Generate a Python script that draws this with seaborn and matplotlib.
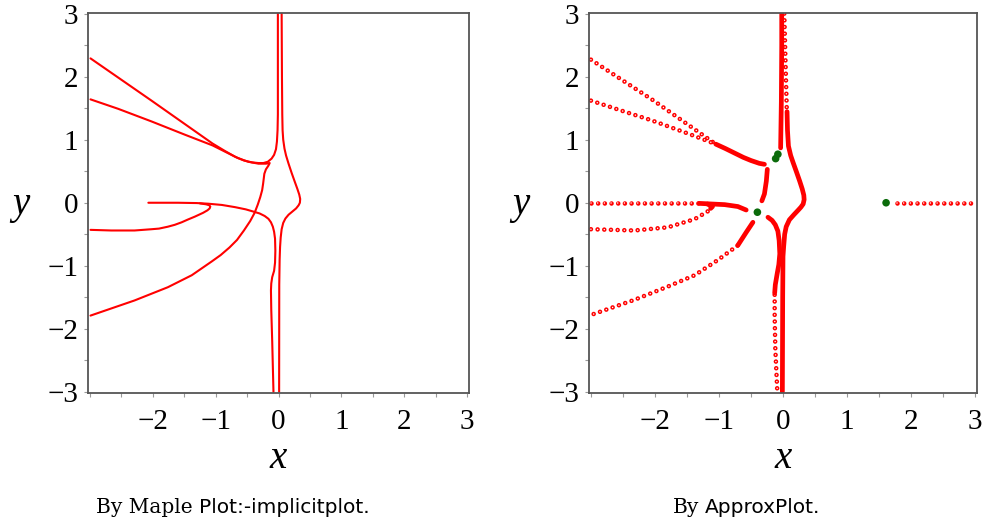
import matplotlib
matplotlib.use("Agg")
import matplotlib.pyplot as plt
import seaborn as sns

# ---- curves (left panel) ----
up1_x = [-2.99, -2.02, -1.05, -0.85, -0.69, -0.55, -0.42, -0.32, -0.24, -0.17, -0.11, -0.07, -0.04,
         -0.025, -0.015, -0.01, -0.01]
up1_y = [2.29, 1.62, 0.94, 0.82, 0.73, 0.67, 0.64, 0.63, 0.63, 0.65, 0.70, 0.76, 0.85,
         0.97, 1.15, 1.4, 3.0]
up2_x = [-2.99, -2.55, -2.02, -1.49, -1.05, -0.85, -0.65, -0.48, -0.32, -0.20, -0.14, -0.16, -0.20,
         -0.225, -0.235, -0.245, -0.26, -0.29, -0.33, -0.38, -0.45, -0.55, -0.66, -0.78, -0.92,
         -1.06, -1.38, -1.76, -2.29, -2.99]
up2_y = [1.64, 1.49, 1.29, 1.08, 0.91, 0.81, 0.71, 0.65, 0.62, 0.62, 0.63, 0.59, 0.53,
         0.46, 0.38, 0.30, 0.20, 0.09, -0.03, -0.16, -0.29, -0.44, -0.59, -0.71, -0.83,
         -0.93, -1.15, -1.34, -1.55, -1.79]
bump_x = [0.05, 0.055, 0.06, 0.065, 0.075, 0.095, 0.12, 0.16, 0.21, 0.26, 0.30, 0.33, 0.345, 0.34,
          0.32, 0.28, 0.22, 0.16, 0.11, 0.075, 0.05, 0.035, 0.025, 0.018, 0.012, 0.01]
bump_y = [3.0, 2.0, 1.4, 1.15, 1.0, 0.86, 0.75, 0.62, 0.47, 0.33, 0.22, 0.13, 0.06, 0.0,
          -0.04, -0.09, -0.14, -0.19, -0.25, -0.32, -0.42, -0.55, -0.7, -0.9, -1.3, -3.0]
hor_x = [-2.07, -1.60, -1.30, -1.12, -0.90, -0.69, -0.52, -0.40, -0.30, -0.22, -0.16, -0.12, -0.09,
         -0.07, -0.055, -0.05, -0.055, -0.07, -0.10, -0.115, -0.12, -0.115, -0.10, -0.09, -0.08]
hor_y = [0.0, 0.0, -0.005, -0.015, -0.035, -0.07, -0.105, -0.14, -0.17, -0.21, -0.255, -0.31, -0.38,
         -0.46, -0.57, -0.76, -0.95, -1.08, -1.18, -1.28, -1.39, -1.7, -2.2, -2.6, -3.0]
pin_x = [-1.25, -1.15, -1.10, -1.085, -1.095, -1.13, -1.20, -1.33, -1.45, -1.54, -1.65, -1.76,
         -1.90, -2.02, -2.29, -2.66, -2.99]
pin_y = [-0.01, -0.025, -0.04, -0.06, -0.09, -0.12, -0.16, -0.22, -0.27, -0.31, -0.35, -0.38,
         -0.41, -0.42, -0.44, -0.44, -0.43]
maple_curves = [(up1_x, up1_y), (up2_x, up2_y), (bump_x, bump_y), (hor_x, hor_y), (pin_x, pin_y)]

# ---- ApproxPlot (right panel): dotted pieces, solid pieces, critical points ----
dot_pieces = [
    ([-3.0, -2.02, -1.05], [2.27, 1.62, 0.93]),
    ([-3.0, -2.55, -2.06, -1.49, -1.05], [1.62, 1.47, 1.31, 1.10, 0.93]),
    ([-0.71, -1.02, -1.38, -1.80, -2.32, -3.0], [-0.68, -0.91, -1.15, -1.33, -1.54, -1.78]),
    ([-3.0, -1.25], [0.0, 0.0]),
    ([-3.0, -2.32, -1.80, -1.38, -1.18, -1.10], [-0.42, -0.44, -0.39, -0.26, -0.14, -0.07]),
    ([0.02, 0.04, 0.06], [3.0, 2.2, 1.44]),
    ([-0.13, -0.13, -0.12, -0.09], [-1.46, -1.80, -2.32, -2.97]),
    ([1.78, 3.0], [0.0, 0.0]),
]
solid_pieces = [
    ([-1.05, -0.90, -0.76, -0.62, -0.50, -0.37, -0.29], [0.93, 0.86, 0.79, 0.72, 0.67, 0.625, 0.61]),
    ([-0.037, -0.026, -0.02, -0.02], [0.87, 1.6, 2.5, 3.0]),
    ([0.063, 0.07, 0.085, 0.12, 0.157, 0.21, 0.26, 0.30, 0.325, 0.33, 0.315, 0.28, 0.235, 0.17,
      0.10, 0.05, 0.026, 0.01, 0.0, -0.005, -0.01],
     [1.445, 1.15, 0.9, 0.75, 0.64, 0.49, 0.345, 0.22, 0.12, 0.05, -0.02, -0.07, -0.12, -0.19,
      -0.27, -0.38, -0.5, -0.7, -0.85, -1.5, -3.0]),
    ([-0.245, -0.26, -0.29, -0.33], [0.53, 0.345, 0.14, 0.03]),
    ([-0.47, -0.575, -0.705], [-0.31, -0.47, -0.675]),
    ([-1.31, -0.91, -0.705, -0.575], [-0.01, -0.03, -0.06, -0.115]),
    ([-0.235, -0.17, -0.12, -0.08, -0.06, -0.05, -0.065, -0.09, -0.12, -0.13],
     [-0.23, -0.28, -0.35, -0.45, -0.6, -0.81, -0.98, -1.12, -1.30, -1.43]),
    ([-1.18, -1.10, -1.13], [-0.02, -0.06, -0.09]),
]
crit_x = [-0.08, -0.115, -0.40, 1.61]
crit_y = [0.77, 0.70, -0.15, 0.0]

sns.set_theme(style="ticks")
plt.rcParams['lines.scale_dashes'] = False
plt.rcParams['font.family'] = ['Liberation Serif', 'DejaVu Serif']
plt.rcParams['text.color'] = 'black'

fig = plt.figure(figsize=(9.82, 5.29), dpi=100)
ax1 = fig.add_axes([88/982, 136.5/529, 381/982, 379.5/529])
ax2 = fig.add_axes([589/982, 136.5/529, 388/982, 379.5/529])

for cx, cy in maple_curves:
    sns.lineplot(x=cx, y=cy, sort=False, estimator=None, ax=ax1, color='red', lw=1.5)

for cx, cy in dot_pieces:
    for c, w in [('red', 3.3), ('white', 1.1)]:
        sns.lineplot(x=cx, y=cy, sort=False, estimator=None, ax=ax2, color=c, lw=w,
                     linestyle=(0, (0.01, 4.8)), dash_capstyle='round')
for cx, cy in solid_pieces:
    sns.lineplot(x=cx, y=cy, sort=False, estimator=None, ax=ax2, color='red', lw=3.4,
                 solid_capstyle='round')
sns.scatterplot(x=crit_x, y=crit_y, ax=ax2, color='#0b6b0b', s=30, edgecolor='none', zorder=5)

xt = [-2, -1, 0, 1, 2, 3]
yt = [-3, -2, -1, 0, 1, 2, 3]
for ax in (ax1, ax2):
    ax.set_xlim(-3.03, 3.03)
    ax.set_ylim(-3.01, 3.01)
    ax.set_xticks(xt, ['\u2212' + str(-v) if v < 0 else str(v) for v in xt])
    ax.set_yticks(yt, ['\u2212' + str(-v) if v < 0 else str(v) for v in yt])
    ax.set_xticks([-3, -2.5, -1.5, -0.5, 0.5, 1.5, 2.5], minor=True)
    ax.set_yticks([-2.5, -1.5, -0.5, 0.5, 1.5, 2.5], minor=True)
    ax.tick_params(which='both', direction='out', length=3, width=0.8, color='#999999',
                   labelcolor='black')
    ax.tick_params(axis='x', labelsize=21, pad=9)
    ax.tick_params(axis='y', labelsize=21, pad=4)
    for s in ax.spines.values():
        s.set_color('#555555')
        s.set_linewidth(1.3)
    ax.set_xlabel('')
    ax.set_ylabel('')
    ax.text(0.5, -0.2, 'x', transform=ax.transAxes, ha='center', va='baseline',
            fontsize=28, fontstyle='italic')
    ax.text(-0.175, 0.47, 'y', transform=ax.transAxes, ha='center', va='baseline',
            fontsize=28, fontstyle='italic')

fig.text(193/982, 16/529, 'By Maple', ha='right', va='baseline', fontsize=14.5,
         family='DejaVu Serif')
fig.text(199/982, 16/529, 'Plot:-implicitplot.', ha='left', va='baseline', fontsize=14.5,
         family='DejaVu Sans')
fig.text(699/982, 16/529, 'By', ha='right', va='baseline', fontsize=14.5,
         family='DejaVu Serif')
fig.text(705/982, 16/529, 'ApproxPlot.', ha='left', va='baseline', fontsize=14.5,
         family='DejaVu Sans')

plt.savefig("out.png", dpi=100)
